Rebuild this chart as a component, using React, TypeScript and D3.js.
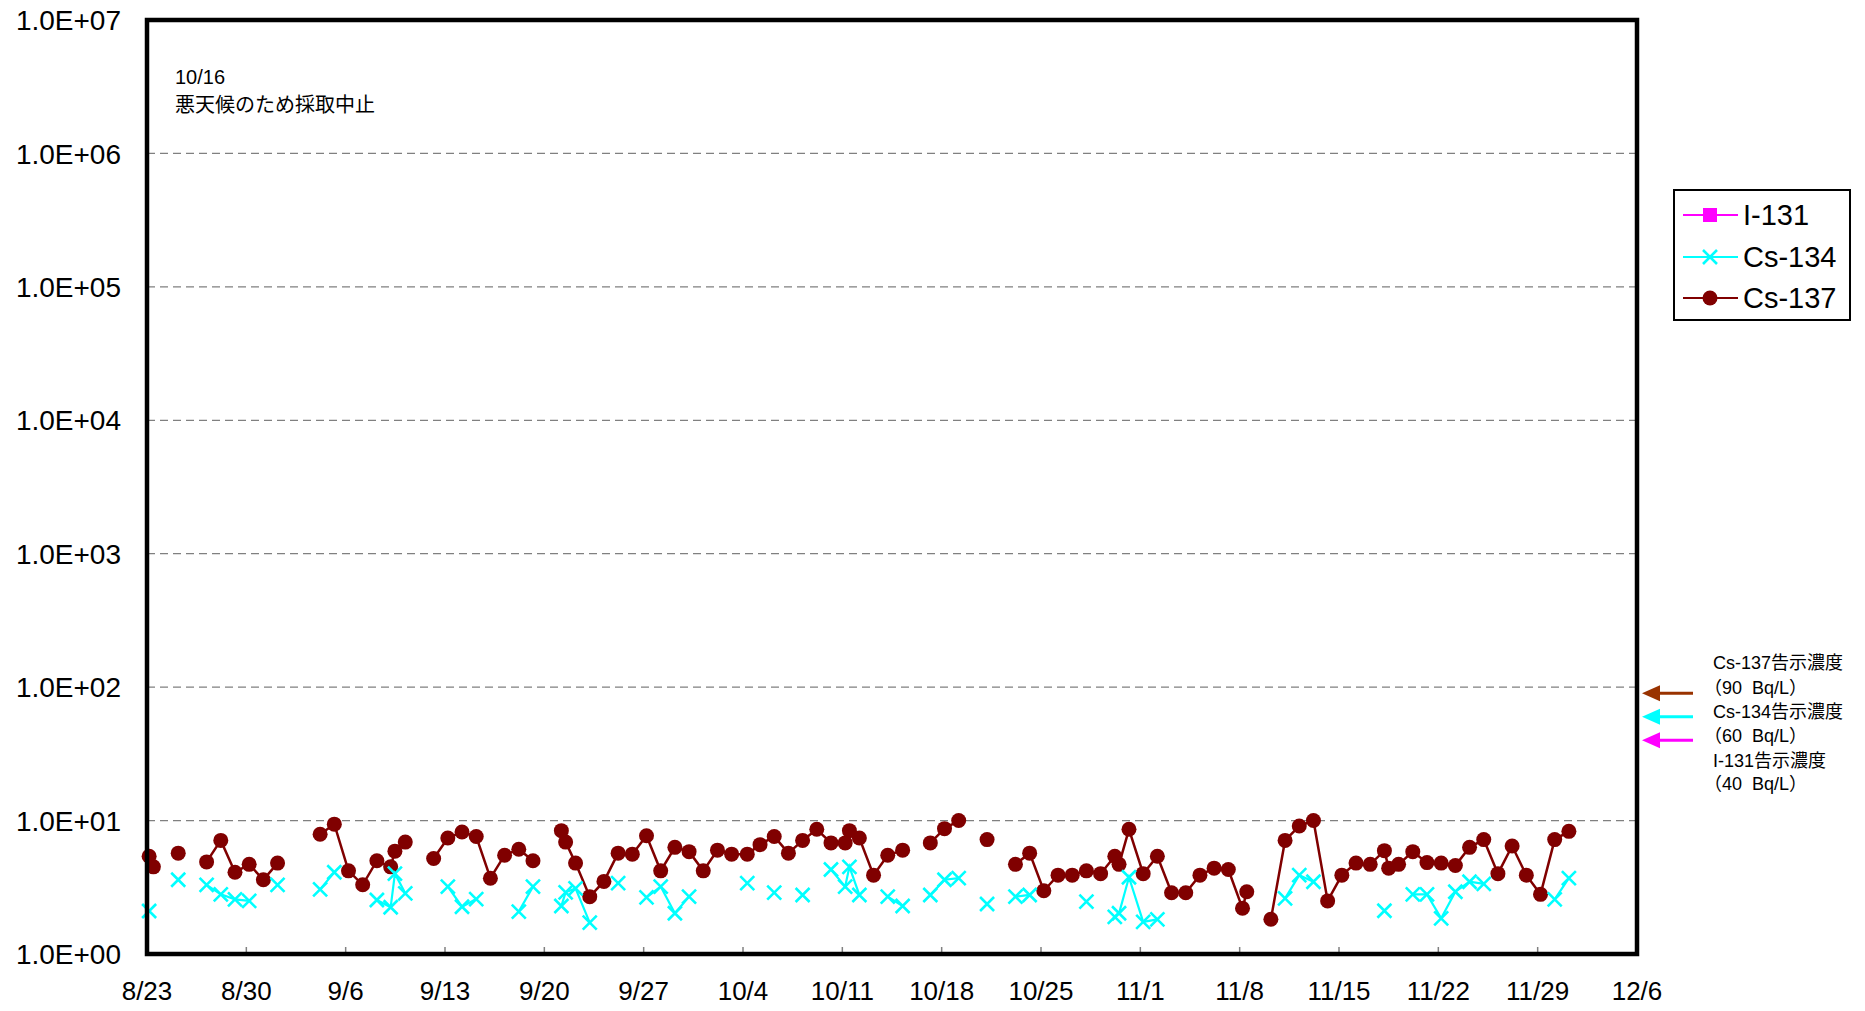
import React from 'react';
import * as d3 from 'd3';

// ---- data ----
// sampling time, in days after 8/23
const sampleDays: number[] = [
  0.15, 0.45, 1.2, 2.2, 3.2, 4.2, 5.2, 6.2, 7.2, 8.2,
  9.2, 10.2, 11.2, 12.2, 13.2, 14.2, 15.2, 16.2, 17.17, 17.47,
  18.2, 19.2, 20.2, 21.2, 22.2, 23.2, 24.2, 25.2, 26.2, 27.2,
  28.2, 29.2, 29.5, 30.2, 31.2, 32.2, 33.2, 34.2, 35.2, 36.2,
  37.2, 38.2, 39.2, 40.2, 41.2, 42.3, 43.2, 44.2, 45.2, 46.2,
  47.2, 48.2, 49.2, 49.5, 50.2, 51.2, 52.2, 53.25, 54.2, 55.2,
  56.2, 57.2, 58.2, 59.2, 60.2, 61.2, 62.2, 63.2, 64.2, 65.2,
  66.2, 67.2, 68.2, 68.5, 69.2, 70.2, 71.2, 72.2, 73.2, 74.2,
  75.2, 76.2, 77.2, 77.5, 78.2, 79.2, 80.2, 81.2, 82.2, 83.2,
  84.2, 85.2, 86.2, 87.2, 87.5, 88.2, 89.2, 90.2, 91.2, 92.2,
  93.2, 94.2, 95.2, 96.2, 97.2, 98.2, 99.2, 100.2,
];

const cs137: (number | null)[] = [
  5.4, 4.5, null, 5.7, null, 4.9, 7.1, 4.1, 4.7, 3.6,
  4.8, null, null, 7.9, 9.4, 4.2, 3.3, 5.0, 4.5, 5.9,
  6.9, null, 5.2, 7.4, 8.2, 7.6, 3.7, 5.5, 6.1, 5.0,
  null, 8.4, 6.9, 4.8, 2.69, 3.5, 5.7, 5.6, 7.7, 4.2,
  6.3, 5.85, 4.2, 6.0, 5.6, 5.6, 6.6, 7.6, 5.7, 7.1,
  8.6, 6.8, 6.8, 8.4, 7.4, 3.9, 5.5, 6.0, null, 6.8,
  8.7, 10.0, null, 7.2, null, 4.7, 5.7, 2.98, 3.9, 3.9,
  4.2, 4.0, 5.4, 4.7, 8.6, 4.0, 5.4, 2.88, 2.88, 3.9,
  4.4, 4.3, 2.2, 2.93, null, 1.82, 7.1, 9.1, 10.0, 2.5,
  3.9, 4.8, 4.7, 5.95, 4.4, 4.7, 5.85, 4.84, 4.8, 4.6,
  6.3, 7.2, 4.0, 6.45, 3.9, 2.8, 7.2, 8.3,
];

const cs134: (number | null)[] = [
  2.1, null, null, 3.6, null, 3.3, 2.8, 2.57, 2.5, null,
  3.3, null, null, 3.05, 4.1, null, null, 2.54, 2.24, 4.0,
  2.85, null, null, 3.2, 2.26, 2.58, null, null, 2.08, 3.2,
  null, 2.29, 2.9, 3.1, 1.72, null, 3.4, null, 2.66, 3.2,
  2.02, 2.69, null, null, null, 3.4, null, 2.88, null, 2.77,
  null, 4.3, 3.2, 4.5, 2.77, null, 2.69, 2.29, null, 2.77,
  3.6, 3.7, null, 2.37, null, 2.69, 2.77, null, null, null,
  2.47, null, 1.9, 2.02, 3.76, 1.74, 1.82, null, null, null,
  null, null, null, null, null, null, 2.61, 3.9, 3.48, null,
  null, null, null, 2.11, null, null, 2.8, 2.8, 1.85, 2.93,
  3.48, 3.35, null, null, null, null, 2.57, 3.7,
];

const xTickLabels = ['8/23', '8/30', '9/6', '9/13', '9/20', '9/27', '10/4', '10/11', '10/18', '10/25', '11/1', '11/8', '11/15', '11/22', '11/29', '12/6'];
const yTickValues = [1, 10, 100, 1e3, 1e4, 1e5, 1e6, 1e7];
const yTickLabels = ['1.0E+00', '1.0E+01', '1.0E+02', '1.0E+03', '1.0E+04', '1.0E+05', '1.0E+06', '1.0E+07'];

const legendNames = ['I-131', 'Cs-134', 'Cs-137'];
const limitNames = ['Cs-137告示濃度', 'Cs-134告示濃度', 'I-131告示濃度'];
const limitValues = [90, 60, 40];

const noteDate = '10/16';
const noteText = '悪天候のため採取中止';

// ---- style ----
const C137 = '#800000';
const C134 = '#00FFFF';
const C131 = '#FF00FF';
const ARROW_COLORS = ['#993300', '#00FFFF', '#FF00FF'];
const FONT = "'Liberation Sans', Arial, 'Noto Sans CJK JP', sans-serif";

export default function App() {
  const W = 1865, H = 1011;
  const L = 147, R = 1637, T = 20, B = 954;

  const x = d3.scaleLinear().domain([0, 105]).range([L, R]);
  const y = d3.scaleLog().domain([1, 1e7]).range([B, T]);

  type P = { d: number; v: number | null };
  const rows137: P[] = sampleDays.map((d, i) => ({ d, v: cs137[i] }));
  const rows134: P[] = sampleDays.map((d, i) => ({ d, v: cs134[i] }));

  const line = d3
    .line<P>()
    .defined((p) => p.v != null)
    .x((p) => x(p.d))
    .y((p) => y(p.v as number));

  const xMark = 'M-7,-7L7,7M-7,7L7,-7';

  const legendY = [215, 257, 298];

  return (
    <svg width={W} height={H} style={{ position: 'absolute', left: 0, top: 0, display: 'block', background: '#fff' }} fontFamily={FONT}>
      <rect x={0} y={0} width={W} height={H} fill="#fff" />
      {/* grid lines */}
      {yTickValues.slice(1, -1).map((v) => (
        <line key={v} x1={L} x2={R} y1={y(v)} y2={y(v)} stroke="#808080" strokeWidth={1.3} strokeDasharray="8 5" />
      ))}
      {/* x ticks */}
      {xTickLabels.map((lab, i) => (
        <g key={lab}>
          <line x1={x(i * 7)} x2={x(i * 7)} y1={B} y2={B - 7} stroke="#808080" strokeWidth={1.5} />
          <text x={x(i * 7)} y={1000} fontSize={26} textAnchor="middle" fill="#000">{lab}</text>
        </g>
      ))}
      {/* y labels */}
      {yTickValues.map((v, i) => (
        <text key={v} x={121} y={y(v)} dy="0.36em" fontSize={28} textAnchor="end" fill="#000">{yTickLabels[i]}</text>
      ))}

      {/* Cs-137 */}
      <path d={line(rows137) || ''} fill="none" stroke={C137} strokeWidth={2.5} />
      {rows137.filter((p) => p.v != null).map((p, i) => (
        <circle key={'c' + i} cx={x(p.d)} cy={y(p.v as number)} r={7.5} fill={C137} />
      ))}
      {/* Cs-134 */}
      <path d={line(rows134) || ''} fill="none" stroke={C134} strokeWidth={2.2} />
      {rows134.filter((p) => p.v != null).map((p, i) => (
        <path key={'x' + i} d={xMark} transform={`translate(${x(p.d)},${y(p.v as number)})`} stroke={C134} strokeWidth={2.6} fill="none" />
      ))}

      {/* frame */}
      <rect x={L} y={T} width={R - L} height={B - T} fill="none" stroke="#000" strokeWidth={4.5} />

      {/* note */}
      <text x={175} y={84} fontSize={20} fill="#000">{noteDate}</text>
      <text x={175} y={112} fontSize={20} fill="#000">{noteText}</text>

      {/* legend */}
      <rect x={1674} y={190} width={176} height={130} fill="#fff" stroke="#000" strokeWidth={2} />
      {legendNames.map((name, i) => {
        const ly = legendY[i];
        const col = [C131, C134, C137][i];
        return (
          <g key={name}>
            <line x1={1683} x2={1738} y1={ly} y2={ly} stroke={col} strokeWidth={2.2} />
            {i === 0 && <rect x={1703} y={ly - 7} width={14} height={14} fill={col} />}
            {i === 1 && <path d={xMark} transform={`translate(1710,${ly})`} stroke={col} strokeWidth={2.6} fill="none" />}
            {i === 2 && <circle cx={1710} cy={ly} r={7.5} fill={col} />}
            <text x={1743} y={ly} dy="0.36em" fontSize={29} fill="#000">{name}</text>
          </g>
        );
      })}

      {/* regulatory limits */}
      {limitValues.map((v, i) => {
        const ay = y(v);
        return (
          <g key={'lim' + i}>
            <line x1={1656} x2={1693} y1={ay} y2={ay} stroke={ARROW_COLORS[i]} strokeWidth={3} />
            <path d={`M1642,${ay}L1660,${ay - 8}L1660,${ay + 8}Z`} fill={ARROW_COLORS[i]} />
          </g>
        );
      })}
      {limitNames.map((name, i) => (
        <g key={name}>
          <text x={1713} y={669 + i * 49} fontSize={18} fill="#000">{name}</text>
          <text x={1704} y={694 + i * 48} fontSize={18} fill="#000" style={{ whiteSpace: 'pre' }}>{`（${limitValues[i]}  Bq/L）`}</text>
        </g>
      ))}
    </svg>
  );
}
